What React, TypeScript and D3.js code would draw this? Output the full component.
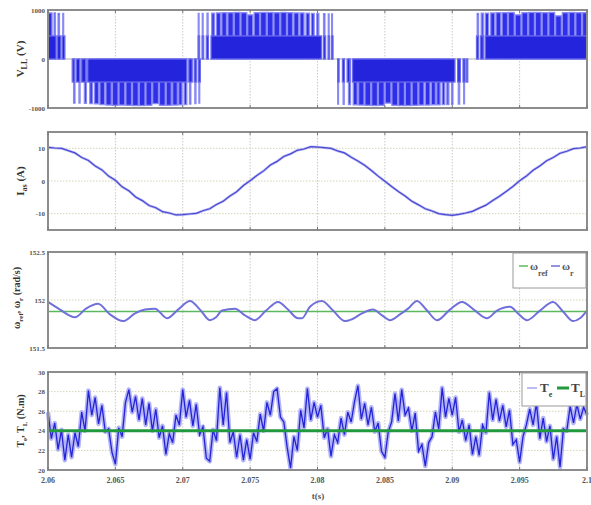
import React from "react";
import * as d3 from "d3";

const W = 591;
const H = 505;
const X0 = 48;
const X1 = 587;

const xTicks = [2.06, 2.065, 2.07, 2.075, 2.08, 2.085, 2.09, 2.095, 2.1];
const xTickLabels = ["2.06", "2.065", "2.07", "2.075", "2.08", "2.085", "2.09", "2.095", "2.1"];

const vllTicks = [1000, 0, -1000];
const vllTickLabels = ["1000", "0", "-1000"];
const iasTicks = [10, 0, -10];
const iasTickLabels = ["10", "0", "-10"];
const wTicks = [152.5, 152, 151.5];
const wTickLabels = ["152.5", "152", "151.5"];
const teTicks = [30, 28, 26, 24, 22, 20];
const teTickLabels = ["30", "28", "26", "24", "22", "20"];

// Line-to-line voltage pulses: [start ms after 2.06 s, end ms, volts]
const vllHalfPulses = [
  [0, 0.6, 470], [0.7, 0.95, 470], [1.05, 1.25, 470],
  [1.8, 1.95, -470], [2.1, 2.35, -470], [2.5, 2.8, -470], [2.95, 10.3, -470], [10.45, 10.7, -470], [10.85, 11.0, -470], [11.15, 11.3, -470],
  [11.15, 11.25, 470], [11.45, 11.55, 470], [11.75, 11.9, 470], [12.1, 20.3, 470], [20.45, 20.6, 470], [20.8, 20.9, 470], [21.05, 21.15, 470],
  [21.5, 21.6, -470], [21.85, 22.0, -470], [22.2, 22.4, -470], [22.6, 30.2, -470], [30.4, 30.6, -470], [30.8, 30.95, -470], [31.05, 31.15, -470],
  [31.8, 31.95, 470], [32.1, 32.3, 470], [32.45, 40, 470],
];
const vllFullPulses = [
  [0, 0.3, 940], [0.45, 0.55, 940], [0.75, 0.85, 930], [1.1, 1.16, 930],
  [1.9, 2.0, -900], [2.3, 2.38, -900], [2.7, 2.85, -905], [3.1, 3.3, -910], [3.45, 3.75, -915], [3.85, 4.2, -930],
  [4.3, 4.7, -940], [4.78, 5.2, -945], [5.27, 5.7, -940], [5.78, 6.2, -945], [6.27, 6.7, -950], [6.77, 7.2, -950],
  [7.27, 7.7, -945], [7.77, 8.2, -910], [8.27, 8.7, -945], [8.77, 9.15, -945], [9.25, 9.6, -940], [9.7, 9.95, -935],
  [10.1, 10.3, -930], [10.5, 10.6, -920], [10.9, 10.98, -910], [11.2, 11.25, -900],
  [11.15, 11.2, 930], [11.45, 11.5, 930], [11.8, 11.88, 935], [12.15, 12.35, 935], [12.5, 12.8, 940], [12.9, 13.25, 945],
  [13.35, 13.75, 945], [13.82, 14.25, 950], [14.32, 14.75, 945], [14.82, 15.2, 900], [15.3, 15.7, 945], [15.77, 16.2, 950],
  [16.27, 16.7, 950], [16.77, 17.2, 945], [17.27, 17.7, 950], [17.77, 18.15, 945], [18.25, 18.6, 940], [18.7, 19.0, 940],
  [19.15, 19.4, 935], [19.55, 19.75, 930], [19.95, 20.1, 930], [20.45, 20.55, 925], [20.8, 20.86, 920], [21.05, 21.1, 920],
  [21.5, 21.55, -920], [21.9, 21.98, -925], [22.3, 22.45, -930], [22.65, 22.95, -935], [23.05, 23.45, -940], [23.52, 23.95, -945],
  [24.02, 24.45, -950], [24.52, 24.95, -945], [25.02, 25.45, -900], [25.52, 25.95, -945], [26.02, 26.45, -950], [26.52, 26.95, -950],
  [27.02, 27.45, -945], [27.52, 27.9, -940], [28.0, 28.35, -940], [28.45, 28.75, -935], [28.85, 29.1, -935], [29.25, 29.45, -930],
  [29.6, 29.75, -930], [29.95, 30.05, -925], [30.45, 30.55, -920], [30.85, 30.9, -915],
  [31.85, 31.95, 930], [32.15, 32.3, 935], [32.45, 32.7, 935], [32.85, 33.15, 940], [33.25, 33.6, 945], [33.7, 34.1, 945],
  [34.17, 34.6, 950], [34.67, 35.1, 900], [35.17, 35.6, 945], [35.67, 36.1, 950], [36.17, 36.6, 950], [36.67, 37.1, 945],
  [37.17, 37.6, 950], [37.67, 38.1, 880], [38.17, 38.6, 945], [38.67, 39.1, 950], [39.17, 39.6, 945], [39.67, 40.0, 945],
];

// Phase current, one sample every 0.5 ms from 2.06 s
const iasStepMs = 0.5;
const iasValues = [
  10.3, 10.1, 10.0, 9.3, 8.6, 7.2, 6.3, 4.6, 3.4, 1.5, 0.2, -1.8, -3.0, -4.9, -6.0, -7.5, -8.2, -9.4, -9.8, -10.4, -10.3,
  -10.1, -9.9, -9.1, -8.5, -7.2, -6.2, -4.6, -3.3, -1.4, 0.1, 1.7, 3.1, 4.9, 6.0, 7.5, 8.3, 9.4, 9.8, 10.5, 10.4,
  10.2, 10.0, 9.2, 8.6, 7.3, 6.1, 4.8, 3.2, 1.5, -0.1, -1.7, -3.2, -4.6, -6.2, -7.3, -8.5, -9.2, -10.0, -10.3, -10.5,
  -10.2, -9.8, -9.3, -8.3, -7.4, -6.0, -4.7, -3.2, -1.7, 0.1, 1.5, 3.3, 4.6, 6.2, 7.2, 8.5, 9.1, 9.9, 10.1, 10.5,
];

// Speed
const wRefValue = 151.88;
const wrPoints = [
  [0.0, 151.98], [0.89, 151.9], [2.0, 151.82], [2.82, 151.91], [3.71, 151.96], [4.6, 151.85], [5.57, 151.78],
  [6.46, 151.86], [7.2, 151.9], [7.94, 151.91], [8.83, 151.81], [9.65, 151.9], [10.54, 151.99], [11.28, 151.9],
  [12.02, 151.79], [12.47, 151.82], [12.91, 151.89], [13.88, 151.91], [14.62, 151.84], [15.36, 151.79], [16.18, 151.89],
  [17.07, 151.98], [17.81, 151.9], [18.55, 151.81], [18.85, 151.81], [19.44, 151.93], [20.33, 151.99], [21.15, 151.89],
  [22.04, 151.78], [22.56, 151.8], [23.3, 151.86], [24.12, 151.9], [24.79, 151.84], [25.38, 151.79], [26.12, 151.85],
  [26.72, 151.91], [27.38, 151.99], [28.13, 151.89], [28.87, 151.79], [29.83, 151.9], [30.72, 151.98], [31.69, 151.89],
  [32.58, 151.81], [33.32, 151.89], [34.29, 151.93], [34.88, 151.86], [35.55, 151.79], [36.51, 151.89], [37.48, 151.98],
  [38.22, 151.88], [38.96, 151.78], [39.48, 151.81], [40.0, 151.89],
];

// Torque, one sample every 0.25 ms
const teStepMs = 0.25;
const teValues = [
  25.9, 23.2, 24.8, 22.1, 24.1, 21.0, 23.6, 21.3, 23.8, 22.4, 25.9, 24.0, 28.1, 25.6, 27.4, 24.7,
  26.6, 23.9, 24.2, 21.8, 20.6, 24.3, 23.4, 26.9, 28.2, 25.9, 27.5, 25.1, 27.3, 24.6, 26.8, 24.0,
  26.2, 23.3, 24.5, 21.6, 23.7, 22.8, 25.6, 24.6, 28.2, 25.4, 27.1, 24.5, 26.7, 23.6, 24.4, 21.2,
  20.9, 24.1, 23.0, 28.4, 24.6, 27.9, 22.8, 23.9, 21.3, 23.6, 21.0, 23.1, 21.1, 23.8, 22.9, 25.7,
  24.0, 26.9, 25.6, 28.0, 28.3, 25.4, 24.9, 22.3, 20.2, 23.4, 22.0, 26.1, 24.3, 28.3, 25.1, 26.9,
  25.4, 26.6, 23.3, 24.2, 21.4, 23.6, 22.8, 25.3, 23.6, 25.9, 24.9, 27.0, 28.6, 25.2, 26.8, 24.6,
  26.4, 23.9, 24.8, 21.9, 21.3, 23.9, 24.9, 27.8, 25.0, 28.2, 25.6, 26.3, 24.0, 25.8, 21.9, 22.6,
  20.4, 22.8, 23.4, 25.9, 24.2, 28.4, 25.4, 27.3, 25.6, 27.4, 23.9, 25.1, 23.0, 24.6, 21.6, 23.4,
  21.5, 24.6, 23.8, 27.9, 25.1, 27.2, 25.0, 26.6, 24.4, 26.1, 22.6, 23.1, 20.8, 23.4, 24.6, 26.2,
  24.6, 26.8, 23.2, 25.3, 22.9, 24.5, 21.1, 23.4, 20.3, 24.2, 24.0, 26.5, 24.8, 26.7, 25.2, 26.4,
  25.6,
];
const tlValue = 24;

const T_START = 2.06;
const msToT = (ms: number) => T_START + ms / 1000;

const x = d3.scaleLinear().domain([2.06, 2.1]).range([X0, X1]);

const panels = [
  { top: 10, bottom: 108, domain: [-1000, 1000] },
  { top: 132, bottom: 230, domain: [-15, 15] },
  { top: 252, bottom: 348, domain: [151.5, 152.5] },
  { top: 372, bottom: 470, domain: [20, 30] },
];

const yScales = panels.map((p) => d3.scaleLinear().domain(p.domain).range([p.bottom, p.top]));

const tickFont = "'Liberation Serif', 'DejaVu Serif', serif";

function Frame({ idx, ticks, labels }: { idx: number; ticks: number[]; labels: string[] }) {
  const p = panels[idx];
  const y = yScales[idx];
  return (
    <g>
      {xTicks.slice(1, -1).map((t, i) => (
        <line key={"vx" + i} x1={x(t)} x2={x(t)} y1={p.top} y2={p.bottom} stroke="#c9c9c9" strokeWidth={1} strokeDasharray="1.5,1.5" />
      ))}
      {ticks.map((v, i) =>
        v === p.domain[0] || v === p.domain[1] ? null : (
          <line key={"hy" + i} x1={X0} x2={X1} y1={y(v)} y2={y(v)} stroke="#d4d4b8" strokeWidth={1} strokeDasharray="1.5,1.5" />
        )
      )}
      {ticks.map((v, i) => (
        <text key={"tl" + i} x={X0 - 3} y={y(v) + 2.5} textAnchor="end" fontSize={7} fontWeight="bold" fill="#555" fontFamily={tickFont}>
          {labels[i]}
        </text>
      ))}
    </g>
  );
}

function Border({ idx }: { idx: number }) {
  const p = panels[idx];
  return (
    <g>
      <rect x={X0} y={p.top} width={X1 - X0} height={p.bottom - p.top} fill="none" stroke="#8d8d8d" strokeWidth={2} />
      {xTicks.map((t, i) => (
        <g key={i}>
          <line x1={x(t)} x2={x(t)} y1={p.bottom} y2={p.bottom - 3} stroke="#777" />
          <line x1={x(t)} x2={x(t)} y1={p.top} y2={p.top + 3} stroke="#777" />
        </g>
      ))}
    </g>
  );
}

export default function App() {
  const yV = yScales[0];
  const yI = yScales[1];
  const yW = yScales[2];
  const yT = yScales[3];

  const iasLine = d3
    .line<number>()
    .x((_, i) => x(msToT(i * iasStepMs)))
    .y((d) => yI(d))(iasValues);

  const wrLine = d3
    .line<number[]>()
    .curve(d3.curveMonotoneX)
    .x((d) => x(msToT(d[0])))
    .y((d) => yW(d[1]))(wrPoints);

  const teLine = d3
    .line<number>()
    .x((_, i) => x(msToT(i * teStepMs)))
    .y((d) => yT(d))(teValues);

  const rect = (pl: number[], i: number, fill: string, stroke: string) => {
    const xa = x(msToT(pl[0]));
    const xb = x(msToT(pl[1]));
    const ya = yV(Math.max(0, pl[2]));
    const yb = yV(Math.min(0, pl[2]));
    return <rect key={i} x={xa} y={ya} width={Math.max(0.8, xb - xa)} height={yb - ya} fill={fill} stroke={stroke} strokeWidth={1.3} />;
  };

  const labelFont = "'Liberation Serif', 'DejaVu Serif', serif";

  return (
    <svg width={W} height={H} style={{ display: "block", position: "absolute", left: 0, top: 0, background: "#fff" }}>
      <rect x={0} y={0} width={W} height={H} fill="#fff" />

      {/* Panel 1 */}
      <Frame idx={0} ticks={vllTicks} labels={vllTickLabels} />
      <line x1={X0} x2={X1} y1={yV(0)} y2={yV(0)} stroke="#bbb" strokeWidth={1} />
      <g>{vllFullPulses.map((pl, i) => rect(pl, i, "#2f2fea", "#8a8af4"))}</g>
      <g>{vllHalfPulses.map((pl, i) => rect(pl, i, "#2424dc", "#6a6aee"))}</g>
      <Border idx={0} />

      {/* Panel 2 */}
      <Frame idx={1} ticks={iasTicks} labels={iasTickLabels} />
      <path d={iasLine || ""} fill="none" stroke="#8c8cec" strokeWidth={2.6} strokeOpacity={0.6} />
      <path d={iasLine || ""} fill="none" stroke="#4848d4" strokeWidth={1.2} />
      <Border idx={1} />

      {/* Panel 3 */}
      <Frame idx={2} ticks={wTicks} labels={wTickLabels} />
      <line x1={X0} x2={X1} y1={yW(wRefValue)} y2={yW(wRefValue)} stroke="#5cb85c" strokeWidth={1.5} />
      <path d={wrLine || ""} fill="none" stroke="#7070dc" strokeWidth={2} />
      <Border idx={2} />
      <g>
        <rect x={513} y={253} width={73} height={35} fill="#fff" stroke="#9a9a9a" strokeWidth={1} />
        <line x1={519} x2={528} y1={266} y2={266} stroke="#5cb85c" strokeWidth={1.5} />
        <text x={530} y={270} fontSize={11} fontWeight="bold" fill="#555" fontFamily={labelFont}>
          ω<tspan fontSize={8} dy={6}>ref</tspan>
        </text>
        <line x1={551} x2={560} y1={266} y2={266} stroke="#7070dc" strokeWidth={1.5} />
        <text x={562} y={270} fontSize={11} fontWeight="bold" fill="#555" fontFamily={labelFont}>
          ω<tspan fontSize={8} dy={6}>r</tspan>
        </text>
      </g>

      {/* Panel 4 */}
      <Frame idx={3} ticks={teTicks} labels={teTickLabels} />
      <path d={teLine || ""} fill="none" stroke="#9a9af4" strokeWidth={4.5} strokeOpacity={0.75} strokeLinejoin="round" />
      <path d={teLine || ""} fill="none" stroke="#2323d8" strokeWidth={1.3} />
      <line x1={X0} x2={X1} y1={yT(tlValue)} y2={yT(tlValue)} stroke="#23993f" strokeWidth={3} />
      <Border idx={3} />
      <g>
        <rect x={522} y={373} width={64} height={33} fill="#fff" stroke="#9a9a9a" strokeWidth={1} />
        <line x1={527} x2={537} y1={388} y2={388} stroke="#7a7ae6" strokeWidth={1} />
        <text x={540} y={392} fontSize={13} fontWeight="bold" fill="#444" fontFamily={labelFont}>
          T<tspan fontSize={8} dy={5}>e</tspan>
        </text>
        <line x1={557} x2={569} y1={388} y2={388} stroke="#23993f" strokeWidth={3} />
        <text x={571} y={392} fontSize={13} fontWeight="bold" fill="#444" fontFamily={labelFont}>
          T<tspan fontSize={8} dy={5}>L</tspan>
        </text>
      </g>

      {/* X tick labels */}
      {xTicks.map((t, i) => (
        <text key={i} x={x(t)} y={483} textAnchor="middle" fontSize={8} fontWeight="bold" fill="#555" fontFamily={tickFont}>
          {xTickLabels[i]}
        </text>
      ))}
      <text x={318} y={499} textAnchor="middle" fontSize={9} fontWeight="bold" fill="#555" fontFamily={labelFont}>
        t(s)
      </text>

      {/* Y labels */}
      <text transform={`translate(24,${yV(0)}) rotate(-90)`} textAnchor="middle" fontSize={11} fontWeight="bold" fill="#333" fontFamily={labelFont}>
        V<tspan fontSize={8} dy={3}>LL</tspan>
        <tspan dy={-3}> (V)</tspan>
      </text>
      <text transform={`translate(24,${yI(0)}) rotate(-90)`} textAnchor="middle" fontSize={11} fontWeight="bold" fill="#333" fontFamily={labelFont}>
        I<tspan fontSize={8} dy={3}>as</tspan>
        <tspan dy={-3}> (A)</tspan>
      </text>
      <text transform={`translate(20,${yW(152) - 2}) rotate(-90)`} textAnchor="middle" fontSize={10} fontWeight="bold" fill="#333" fontFamily={labelFont}>
        ω<tspan fontSize={7} dy={3}>ref</tspan>
        <tspan dy={-3}>, ω</tspan>
        <tspan fontSize={7} dy={3}>r</tspan>
        <tspan dy={-3}> (rad/s)</tspan>
      </text>
      <text transform={`translate(24,${yT(25)}) rotate(-90)`} textAnchor="middle" fontSize={10} fontWeight="bold" fill="#333" fontFamily={labelFont}>
        T<tspan fontSize={7} dy={3}>e</tspan>
        <tspan dy={-3}>, T</tspan>
        <tspan fontSize={7} dy={3}>L</tspan>
        <tspan dy={-3}> (N.m)</tspan>
      </text>
    </svg>
  );
}
